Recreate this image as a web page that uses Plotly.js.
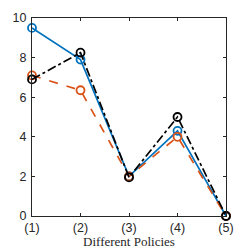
<!DOCTYPE html>
<html><head><meta charset="utf-8">
<script src="https://cdn.plot.ly/plotly-3.0.1.min.js"></script>
<style>html,body{margin:0;padding:0;background:#fff}</style>
</head><body><div id="plot" style="width:249px;height:249px"></div>
<script>
const categories = ['(1)','(2)','(3)','(4)','(5)'];
const xPos = [1,2,3,4,5];
const blueVals = [9.5, 7.9, 2.0, 4.3, 0];
const orangeVals = [7.1, 6.35, 2.0, 4.0, 0];
const blackVals = [6.9, 8.25, 1.95, 5.0, 0];
const yTicks = [0,2,4,6,8,10];

function tr(y, color, dash){
  return {x:xPos, y:y, type:'scatter', mode:'lines+markers', cliponaxis:false,
    line:{color:color, width:1.7, dash:dash},
    marker:{symbol:'circle-open', size:8, color:color, line:{width:1.8, color:color}}};
}
const data = [tr(blueVals,'#0072BD','solid'), tr(orangeVals,'#D95319','dash'), tr(blackVals,'#000000','dashdot')];
const axisCommon = {showgrid:false, zeroline:false, showline:true, mirror:'ticks', linecolor:'#262626', linewidth:1,
  ticks:'inside', ticklen:3, tickcolor:'#262626', tickfont:{family:'Liberation Sans, Arial', size:12.5, color:'#262626'}};
const layout = {width:249, height:249, margin:{l:32, r:23, t:18, b:33}, showlegend:false,
  paper_bgcolor:'#fff', plot_bgcolor:'#fff',
  xaxis:Object.assign({}, axisCommon, {range:[1,5], tickvals:xPos, ticktext:categories, ticklabelstandoff:0,
    title:{text:'Different Policies', font:{family:'Liberation Serif, DejaVu Serif', size:13, color:'#262626'}, standoff:2}}),
  yaxis:Object.assign({}, axisCommon, {range:[0,10], tickvals:yTicks, ticklabelstandoff:2})
};
Plotly.newPlot('plot', data, layout, {staticPlot:true});
</script></body></html>
